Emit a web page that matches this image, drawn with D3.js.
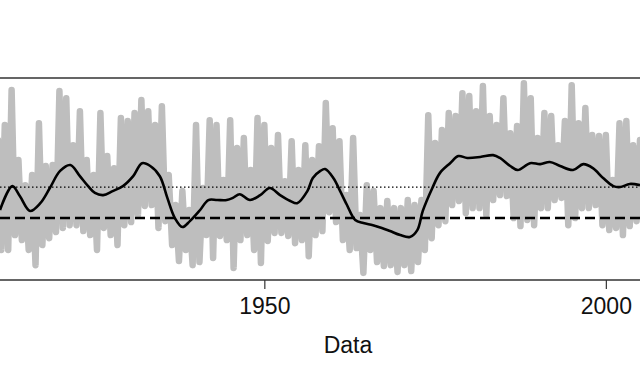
<!DOCTYPE html>
<html>
<head>
<meta charset="utf-8">
<script src="https://cdn.jsdelivr.net/npm/d3@7"></script>
<style>
  body { margin: 0; background: #fff; }
  text { font-family: "Liberation Sans", Arial, sans-serif; }
</style>
</head>
<body>
<div id="chart"></div>
<script>
// annual series: upper and lower extremes of each year
var years = [1911, 1912, 1913, 1914, 1915, 1916, 1917, 1918, 1919, 1920,
    1921, 1922, 1923, 1924, 1925, 1926, 1927, 1928, 1929, 1930,
    1931, 1932, 1933, 1934, 1935, 1936, 1937, 1938, 1939, 1940,
    1941, 1942, 1943, 1944, 1945, 1946, 1947, 1948, 1949, 1950,
    1951, 1952, 1953, 1954, 1955, 1956, 1957, 1958, 1959, 1960,
    1961, 1962, 1963, 1964, 1965, 1966, 1967, 1968, 1969, 1970,
    1971, 1972, 1973, 1974, 1975, 1976, 1977, 1978, 1979, 1980,
    1981, 1982, 1983, 1984, 1985, 1986, 1987, 1988, 1989, 1990,
    1991, 1992, 1993, 1994, 1995, 1996, 1997, 1998, 1999, 2000,
    2001, 2002, 2003, 2004, 2005];

var highValues = [2.52, 3.00, 4.13, 1.87, 1.06, 1.39, 3.06, 1.68, 1.71, 4.10,
    3.87, 2.35, 3.45, 1.87, 1.39, 3.39, 2.00, 1.61, 3.23, 3.13,
    3.39, 3.81, 3.45, 3.00, 3.61, 1.39, 0.42, 0.87, 0.26, 3.00,
    0.97, 3.16, 3.00, 1.23, 3.16, 2.26, 2.58, 1.55, 3.23, 3.00,
    2.26, 2.68, 1.19, 2.48, 1.55, 2.35, 1.87, 2.32, 3.71, 2.90,
    2.48, 0.74, 2.58, 0.10, 1.06, 0.87, 0.32, 0.55, 0.32, 0.32,
    0.58, 0.42, 0.58, 3.32, 2.42, 2.84, 3.39, 3.29, 4.03, 3.94,
    3.45, 4.26, 3.29, 3.00, 3.87, 2.74, 2.97, 4.35, 3.87, 2.58,
    3.39, 3.29, 2.35, 3.13, 4.29, 3.06, 3.55, 2.68, 2.65, 2.68,
    1.23, 3.06, 3.13, 2.35, 2.52];

var lowValues = [-1.03, -1.03, -0.55, -0.71, -1.03, -1.52, -0.87, -0.65, -0.45, -0.32,
    -0.23, -0.23, -0.42, -0.55, -1.03, -0.32, -0.55, -0.87, -0.23, -0.13,
    0.10, 0.39, 0.42, -0.32, -0.10, -0.87, -1.39, -1.03, -1.52, -1.42,
    -0.55, -1.29, -0.58, -0.71, -1.61, -0.71, -0.55, -1.03, -1.45, -0.74,
    -0.48, -0.48, -0.58, -0.81, -0.71, -1.23, -0.55, -0.42, 0.19, -0.13,
    -0.71, -1.03, -0.97, -1.77, -1.03, -1.42, -1.55, -1.52, -1.74, -1.52,
    -1.71, -1.42, -1.03, -0.65, -0.23, -0.10, 0.42, 0.55, 0.16, 0.32,
    0.32, 0.10, 0.58, 0.74, 0.71, 0.00, -0.26, -0.06, -0.23, 0.32,
    0.32, 0.58, 0.65, -0.23, 0.00, 0.32, 0.32, 0.42, -0.23, -0.39,
    -0.32, -0.55, -0.26, -0.10, -0.06];

// smoothed curve
var smoothYears = [1911.3, 1913.1, 1914.2, 1915.7, 1917.2, 1918.6, 1920.1, 1921.6, 1923.0, 1924.2,
    1925.2, 1926.4, 1927.8, 1929.3, 1930.8, 1932.1, 1933.3, 1934.7, 1935.8, 1936.9,
    1938.0, 1939.1, 1940.6, 1941.8, 1943.1, 1944.5, 1945.4, 1946.4, 1947.9, 1949.4,
    1950.8, 1952.3, 1953.8, 1954.8, 1956.3, 1957.1, 1958.2, 1958.9, 1960.1, 1961.1,
    1962.1, 1963.3, 1964.5, 1965.9, 1967.2, 1968.4, 1969.9, 1971.3, 1972.4, 1973.2,
    1974.6, 1975.7, 1977.2, 1978.4, 1979.7, 1981.6, 1983.5, 1984.5, 1986.0, 1987.1,
    1988.9, 1990.4, 1991.8, 1993.3, 1995.2, 1996.7, 1998.1, 1999.6, 2001.1, 2002.1,
    2003.5, 2005.0];

var smoothValues = [0.26, 1.03, 0.71, 0.23, 0.48, 0.97, 1.52, 1.71, 1.35, 1.03,
    0.81, 0.74, 0.87, 1.03, 1.35, 1.77, 1.68, 1.35, 0.65, 0.00,
    -0.29, -0.10, 0.26, 0.58, 0.58, 0.58, 0.65, 0.77, 0.58, 0.74,
    0.97, 0.74, 0.55, 0.48, 0.87, 1.29, 1.52, 1.58, 1.29, 0.87,
    0.42, -0.06, -0.16, -0.23, -0.32, -0.42, -0.55, -0.61, -0.39, 0.23,
    0.97, 1.45, 1.77, 2.00, 1.94, 1.97, 2.03, 1.94, 1.68, 1.55,
    1.77, 1.74, 1.81, 1.68, 1.55, 1.74, 1.61, 1.29, 1.03, 1.00,
    1.10, 1.06];

// reference levels
var dottedLevel = 1;
var dashedLevel = 0;

var tickYears = [1950, 2000];
var xLabel = "Data";

// dimensions
var width = 640, height = 378;
var plotTop = 78, plotBottom = 280;

var svg = d3.select("#chart")
    .append("svg")
    .attr("width", width)
    .attr("height", height);

var x = d3.scaleLinear()
    .domain([1911.3, 2005.0])
    .range([0, width]);

var y = d3.scaleLinear()
    .domain([-2, 4.52])
    .range([plotBottom, plotTop]);

svg.append("clipPath")
    .attr("id", "plotClip")
    .append("rect")
    .attr("x", -10)
    .attr("y", plotTop)
    .attr("width", width + 20)
    .attr("height", plotBottom - plotTop);

var plot = svg.append("g").attr("clip-path", "url(#plotClip)");

// gray raw series: high then low within each year
var rawPoints = [];
years.forEach(function (yr, i) {
    rawPoints.push([yr, highValues[i]]);
    rawPoints.push([yr + 0.5, lowValues[i]]);
});

plot.append("path")
    .datum(rawPoints)
    .attr("fill", "none")
    .attr("stroke", "#bebebe")
    .attr("stroke-width", 6.5)
    .attr("stroke-linejoin", "round")
    .attr("stroke-linecap", "round")
    .attr("d", d3.line()
        .x(function (d) { return x(d[0]); })
        .y(function (d) { return y(d[1]); }));

// dotted line
plot.append("line")
    .attr("x1", 0).attr("x2", width)
    .attr("y1", y(dottedLevel)).attr("y2", y(dottedLevel))
    .attr("stroke", "#000")
    .attr("stroke-width", 1.2)
    .attr("stroke-dasharray", "1.5,2.5");

// dashed line
plot.append("line")
    .attr("x1", 0).attr("x2", width)
    .attr("y1", y(dashedLevel)).attr("y2", y(dashedLevel))
    .attr("stroke", "#000")
    .attr("stroke-width", 2.5)
    .attr("stroke-dasharray", "10,5");

// smoothed line
plot.append("path")
    .datum(smoothYears.map(function (d, i) { return [d, smoothValues[i]]; }))
    .attr("fill", "none")
    .attr("stroke", "#000")
    .attr("stroke-width", 2.6)
    .attr("d", d3.line()
        .curve(d3.curveCatmullRom)
        .x(function (d) { return x(d[0]); })
        .y(function (d) { return y(d[1]); }));

// box
svg.append("rect")
    .attr("x", -5)
    .attr("y", plotTop)
    .attr("width", width + 10)
    .attr("height", plotBottom - plotTop)
    .attr("fill", "none")
    .attr("stroke", "#333")
    .attr("stroke-width", 1.5);

// X axis
var xAxis = svg.append("g")
    .attr("transform", "translate(0," + plotBottom + ")")
    .call(d3.axisBottom(x).tickValues(tickYears).tickFormat(d3.format("d")).tickSize(9).tickPadding(9));
xAxis.select(".domain").remove();
xAxis.selectAll("line").attr("stroke", "#333").attr("stroke-width", 1.2);
xAxis.selectAll("text")
    .attr("fill", "#111")
    .style("font-size", "23px")
    .style("font-family", "'Liberation Sans', Arial, sans-serif");

// X axis label
svg.append("text")
    .attr("text-anchor", "middle")
    .attr("x", 348)
    .attr("y", 353)
    .attr("fill", "#111")
    .style("font-size", "23px")
    .text(xLabel);
</script>
</body>
</html>
